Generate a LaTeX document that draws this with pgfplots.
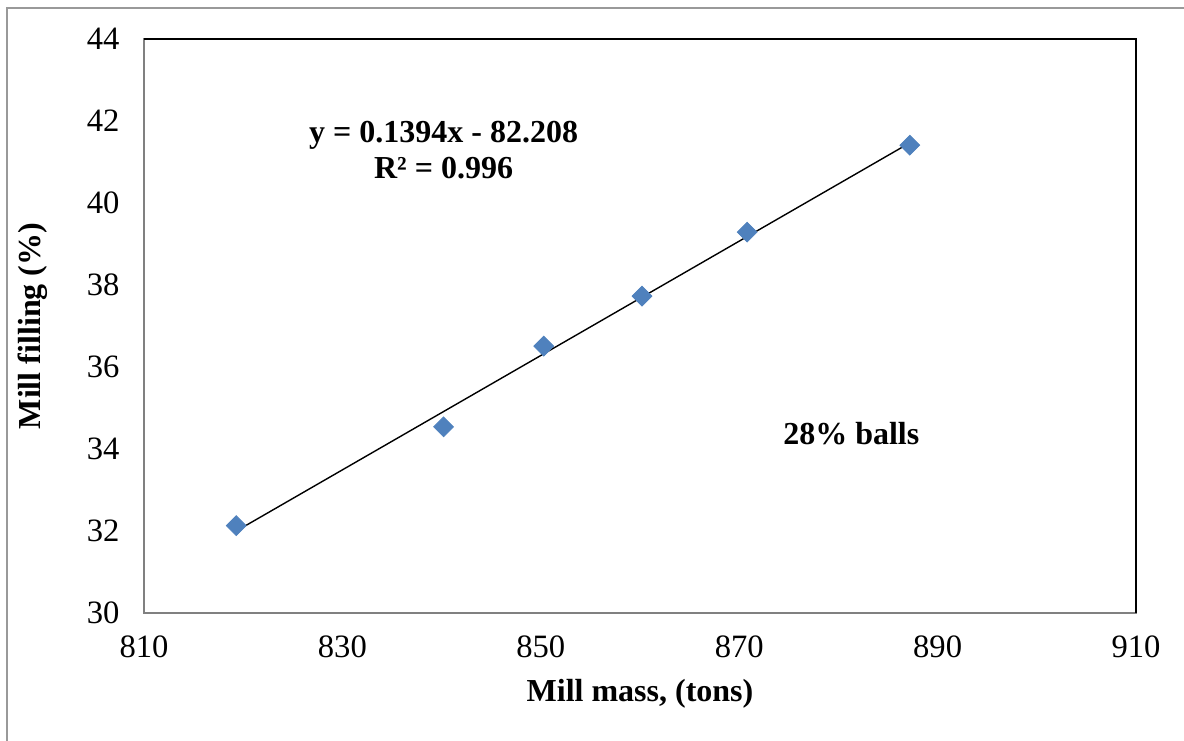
\documentclass[border=0pt]{standalone}
\usepackage{fontspec}
\setmainfont{Liberation Serif}
\usepackage{pgfplots}
\pgfplotsset{compat=1.18}
\definecolor{mk}{HTML}{4F81BD}
\begin{document}
\begin{tikzpicture}
\useasboundingbox (-72pt,-63.5pt) rectangle (520pt,306.5pt);
\draw[gray!80, line width=0.75pt] (-68.5pt,-70pt) -- (-68.5pt,302.5pt) -- (530pt,302.5pt);
\begin{axis}[
  at={(0pt,0pt)}, anchor=south west,
  scale only axis, width=496pt, height=287pt,
  xmin=810, xmax=910, ymin=30, ymax=44,
  xtick={810,830,...,910}, ytick={30,32,...,44},
  major tick length=0pt,
  axis line style={draw=gray, line width=0.8pt},
  /pgf/number format/assume math mode=true,
  tick label style={font=\fontsize{16.3}{19}\selectfont},
  xticklabel style={yshift=-8pt},
  yticklabel style={xshift=-8.7pt},
  xlabel={\textbf{Mill mass, (tons)}},
  ylabel={\textbf{Mill filling (\%)}},
  every axis x label/.style={at={(axis description cs:0.5,-0.141)}, anchor=center, font=\fontsize{16}{19}\selectfont},
  every axis y label/.style={at={(axis description cs:-0.112,0.5)}, anchor=center, rotate=90, font=\fontsize{16}{19}\selectfont},
  clip=false,
]
\addplot[only marks, mark=square*, mark size=3.5pt, mark options={rotate=45, fill=mk, draw=mk}] coordinates {
  (819.3,32.13) (840.2,34.54) (850.3,36.51) (860.2,37.73) (870.8,39.29) (887.2,41.41)
};
\addplot[black, line width=0.7pt] coordinates {(819.3,31.999) (887.2,41.468)};
\draw[black, line width=0.9pt] (rel axis cs:0,1) -- (rel axis cs:1,1) -- (rel axis cs:1,0);
\node[align=center, font=\fontsize{16}{18}\bfseries] at (axis cs:840.2,41.3) {y = 0.1394x - 82.208\\R² = 0.996};
\node[font=\fontsize{16}{19}\bfseries] at (axis cs:881.3,34.37) {28\% balls};
\end{axis}
\end{tikzpicture}
\end{document}
